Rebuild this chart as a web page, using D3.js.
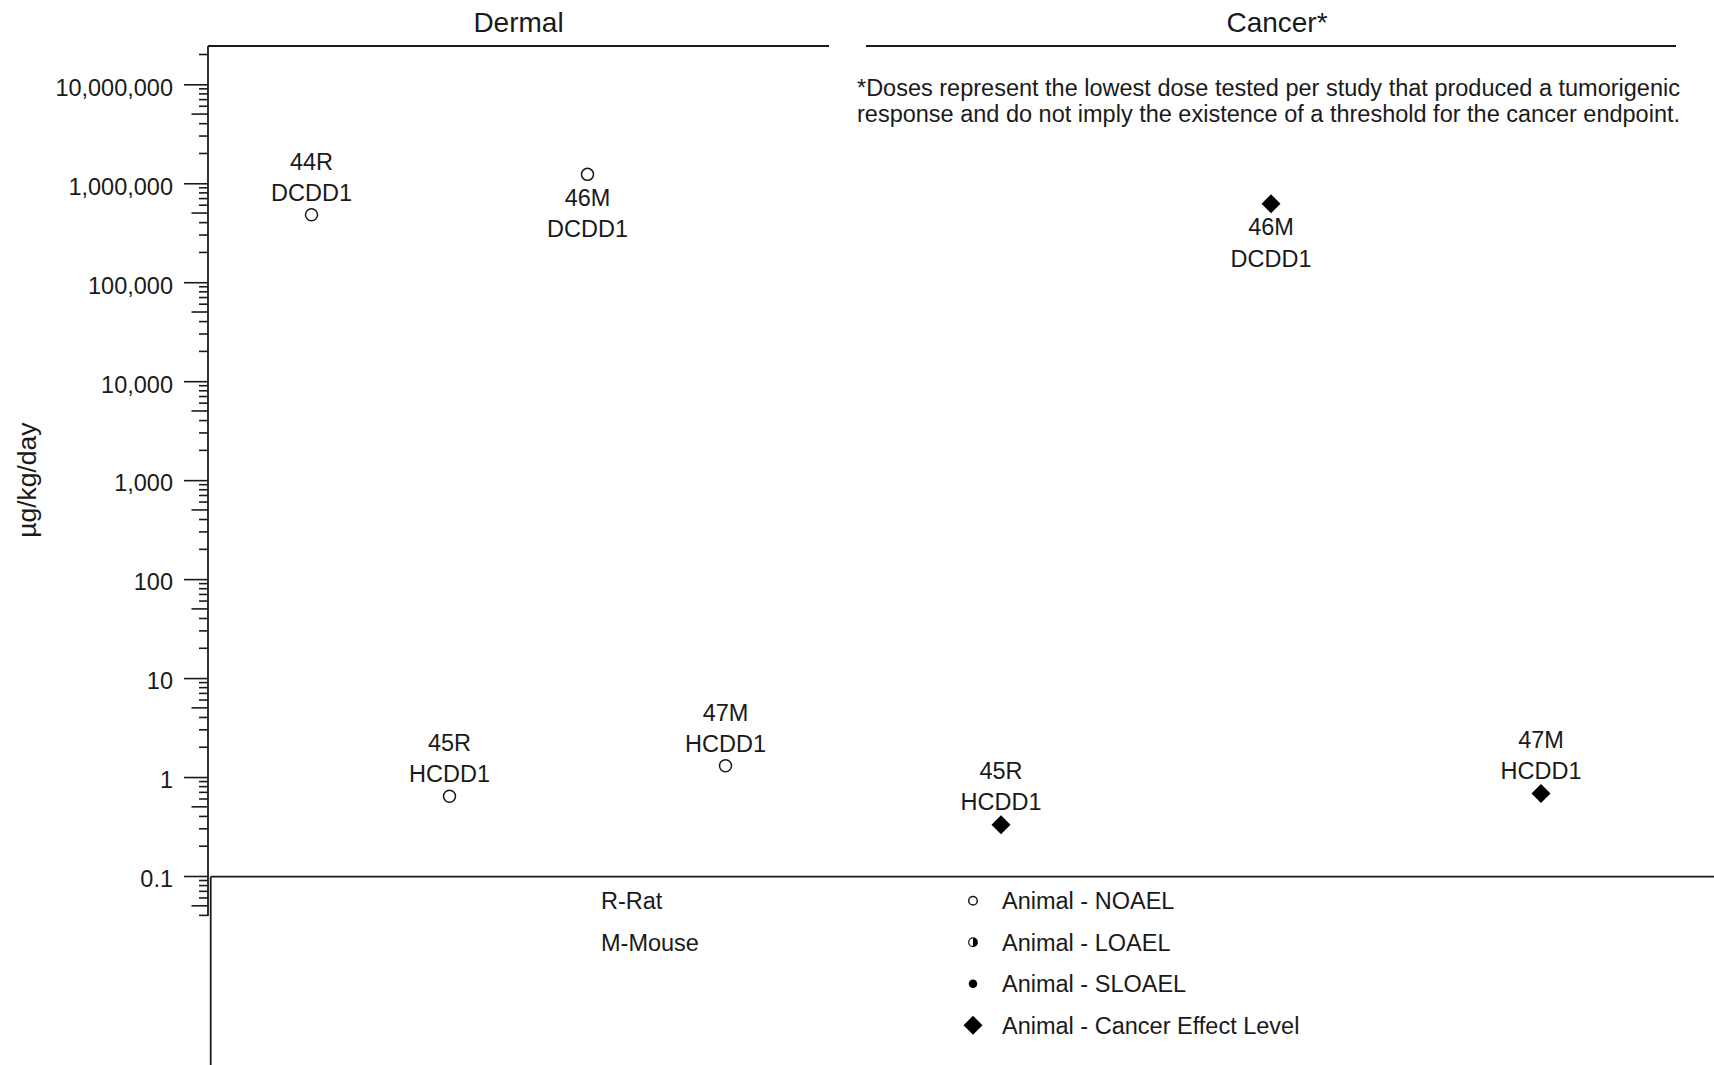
<!DOCTYPE html>
<html>
<head>
<meta charset="utf-8">
<script src="https://cdn.jsdelivr.net/npm/d3@7/dist/d3.min.js"></script>
<style>
  html, body { margin: 0; padding: 0; background: #fff; }
  svg { display: block; font-family: "Liberation Sans", Arial, sans-serif; }
  text { fill: #1a1a1a; }
</style>
</head>
<body>
<script>
// ---- Data: dermal and cancer effect levels (µg/kg/day) ----
const panels = ["Dermal", "Cancer*"];

const dermalStudies   = ["44R", "45R", "46M", "47M"];
const dermalCompounds = ["DCDD1", "HCDD1", "DCDD1", "HCDD1"];
const dermalValues    = [480000, 0.64, 1230000, 1.3];
const dermalEffects   = ["NOAEL", "NOAEL", "NOAEL", "NOAEL"];

const cancerStudies   = ["45R", "46M", "47M"];
const cancerCompounds = ["HCDD1", "DCDD1", "HCDD1"];
const cancerValues    = [0.33, 620000, 0.68];
const cancerEffects   = ["CEL", "CEL", "CEL"];

const yTickValues = [0.1, 1, 10, 100, 1000, 10000, 100000, 1000000, 10000000];
const yTickLabels = ["0.1", "1", "10", "100", "1,000", "10,000", "100,000", "1,000,000", "10,000,000"];

const footnoteLines = [
  "*Doses represent the lowest dose tested per study that produced a tumorigenic",
  "response and do not imply the existence of a threshold for the cancer endpoint."
];
const speciesKey = ["R-Rat", "M-Mouse"];
const effectKey = [
  { type: "NOAEL", label: "Animal - NOAEL" },
  { type: "LOAEL", label: "Animal - LOAEL" },
  { type: "SLOAEL", label: "Animal - SLOAEL" },
  { type: "CEL", label: "Animal - Cancer Effect Level" }
];

// ---- Layout ----
const W = 1714, H = 1065;
const FS = 23.5;
const ink = "#1a1a1a";

const svg = d3.select("body").append("svg")
  .attr("width", W).attr("height", H);

// Log scale: decades anchored at 0.1 and 10,000,000, axis extended a bit past both
const yBase = d3.scaleLog().domain([0.1, 1e7]).range([876, 84.3]);
const y = d3.scaleLog()
  .domain([yBase.invert(916), yBase.invert(46)])
  .range([916, 46]);

const axisX = 208;

// Panels along x
const dermalX = d3.scalePoint().domain(dermalStudies).range([208, 829]).padding(0.75);
const cancerX = d3.scalePoint().domain(cancerStudies).range([866, 1676]).padding(0.5);

const panelDefs = [
  { title: panels[0], x: dermalX, range: [208, 829],
    rows: dermalStudies.map((s, i) => ({ study: s, compound: dermalCompounds[i], value: dermalValues[i], effect: dermalEffects[i] })) },
  { title: panels[1], x: cancerX, range: [866, 1676],
    rows: cancerStudies.map((s, i) => ({ study: s, compound: cancerCompounds[i], value: cancerValues[i], effect: cancerEffects[i] })) }
];

// Which points carry their two-line label underneath instead of above
const labelsBelow = new Set(["Dermal|46M", "Cancer*|46M"]);

// ---- Y axis ----
const yAxis = d3.axisLeft(y)
  .tickValues(yTickValues)
  .tickFormat((d, i) => yTickLabels[i])
  .tickSize(24)
  .tickPadding(11);

const gy = svg.append("g")
  .attr("transform", `translate(${axisX},0)`)
  .call(yAxis);
gy.select(".domain").remove();
gy.selectAll(".tick line").attr("stroke", ink).attr("stroke-width", 1.6);
gy.selectAll(".tick text")
  .attr("font-size", FS)
  .attr("fill", ink)
  .attr("dy", "0.46em")
  .style("font-family", "'Liberation Sans', Arial, sans-serif");

// minor ticks 2..9 per decade
const [dLo, dHi] = y.domain();
const minor = [];
for (let e = Math.floor(Math.log10(dLo)); e <= Math.ceil(Math.log10(dHi)); e++) {
  for (let k = 2; k <= 9; k++) {
    const v = k * Math.pow(10, e);
    if (v >= dLo && v <= dHi) minor.push({ v, k });
  }
}
svg.append("g").selectAll("line").data(minor).join("line")
  .attr("x1", d => axisX - (d.k === 5 ? 16.5 : 9))
  .attr("x2", axisX)
  .attr("y1", d => y(d.v)).attr("y2", d => y(d.v))
  .attr("stroke", ink).attr("stroke-width", 1.6);

// axis spine
svg.append("line")
  .attr("x1", axisX).attr("x2", axisX)
  .attr("y1", y.range()[1]).attr("y2", y.range()[0])
  .attr("stroke", ink).attr("stroke-width", 1.8);

// y axis title
svg.append("text")
  .attr("transform", `translate(36,${(yBase(1e7) + yBase(0.1)) / 2}) rotate(-90)`)
  .attr("text-anchor", "middle")
  .attr("font-size", 26.5)
  .text("µg/kg/day");

// ---- Panel headers ----
panelDefs.forEach(p => {
  svg.append("line")
    .attr("x1", p.range[0]).attr("x2", p.range[1])
    .attr("y1", 46).attr("y2", 46)
    .attr("stroke", ink).attr("stroke-width", 1.8);
  svg.append("text")
    .attr("x", (p.range[0] + p.range[1]) / 2 + (p.title.endsWith("*") ? 6 : 0))
    .attr("y", 32)
    .attr("text-anchor", "middle")
    .attr("font-size", 28)
    .text(p.title);
});

// footnote under the cancer header
svg.append("g").selectAll("text").data(footnoteLines).join("text")
  .attr("x", 857)
  .attr("y", (d, i) => 96 + i * 26.2)
  .attr("font-size", FS)
  .text(d => d);

// ---- Markers ----
function drawMarker(g, type, cx, cy, r) {
  if (type === "CEL") {
    const h = r;
    g.append("path")
      .attr("d", `M${cx},${cy - h}L${cx + h},${cy}L${cx},${cy + h}L${cx - h},${cy}Z`)
      .attr("fill", "#000");
  } else if (type === "NOAEL") {
    g.append("circle").attr("cx", cx).attr("cy", cy).attr("r", r)
      .attr("fill", "#fff").attr("stroke", ink).attr("stroke-width", 1.5);
  } else if (type === "SLOAEL") {
    g.append("circle").attr("cx", cx).attr("cy", cy).attr("r", r).attr("fill", "#000");
  } else if (type === "LOAEL") {
    g.append("circle").attr("cx", cx).attr("cy", cy).attr("r", r)
      .attr("fill", "#fff").attr("stroke", ink).attr("stroke-width", 1.3);
    g.append("path")
      .attr("d", `M${cx},${cy - r}A${r},${r} 0 0 1 ${cx},${cy + r}Z`)
      .attr("fill", "#000");
  }
}

panelDefs.forEach(p => {
  const g = svg.append("g");
  p.rows.forEach(d => {
    const cx = p.x(d.study);
    const cy = y(d.value);
    drawMarker(g, d.effect, cx, cy, d.effect === "CEL" ? 9.5 : 6);
    const below = labelsBelow.has(p.title + "|" + d.study);
    const offs = below ? [23, 54.5] : [-53.5, -22.5];
    [d.study, d.compound].forEach((t, j) => {
      g.append("text")
        .attr("x", cx)
        .attr("y", cy + offs[j] + 8.3)
        .attr("text-anchor", "middle")
        .attr("font-size", FS)
        .text(t);
    });
  });
});

// ---- Legend area ----
svg.append("line")
  .attr("x1", 210.7).attr("x2", W)
  .attr("y1", 876.7).attr("y2", 876.7)
  .attr("stroke", ink).attr("stroke-width", 1.8);
svg.append("line")
  .attr("x1", 210.7).attr("x2", 210.7)
  .attr("y1", 876.7).attr("y2", H)
  .attr("stroke", ink).attr("stroke-width", 1.8);

const rowY = i => 900.7 + i * 41.5;

svg.append("g").selectAll("text").data(speciesKey).join("text")
  .attr("x", 601)
  .attr("y", (d, i) => rowY(i) + 8.3)
  .attr("font-size", FS)
  .text(d => d);

const lg = svg.append("g");
effectKey.forEach((k, i) => {
  drawMarker(lg, k.type, 973, rowY(i), k.type === "CEL" ? 9.5 : 4.3);
  lg.append("text")
    .attr("x", 1002)
    .attr("y", rowY(i) + 8.3)
    .attr("font-size", FS)
    .text(k.label);
});
</script>
</body>
</html>
